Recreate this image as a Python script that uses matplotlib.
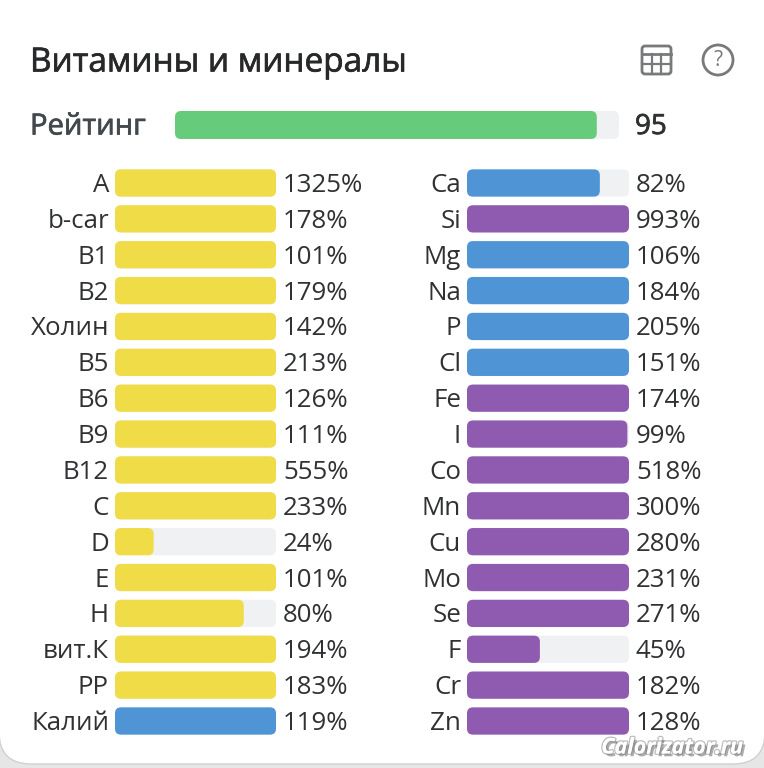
import matplotlib
matplotlib.use("Agg")
import matplotlib.pyplot as plt
import matplotlib.patheffects as pe
from matplotlib.patches import FancyBboxPatch, Circle

plt.rcParams['font.family'] = ['Open Sans', 'DejaVu Sans']

# Data
left_names = ["A", "b-car", "B1", "B2", "Холин", "B5", "B6", "B9", "B12", "C", "D", "E", "H", "вит.К", "PP", "Калий"]
left_values = [1325, 178, 101, 179, 142, 213, 126, 111, 555, 233, 24, 101, 80, 194, 183, 119]
left_colors = ["y"] * 15 + ["b"]

right_names = ["Ca", "Si", "Mg", "Na", "P", "Cl", "Fe", "I", "Co", "Mn", "Cu", "Mo", "Se", "F", "Cr", "Zn"]
right_values = [82, 993, 106, 184, 205, 151, 174, 99, 518, 300, 280, 231, 271, 45, 182, 128]
right_colors = ["b", "p", "b", "b", "b", "b", "p", "p", "p", "p", "p", "p", "p", "p", "p", "p"]

rating_label = "Рейтинг"
rating_value = 95

palette = {"y": "#f0dc46", "b": "#4f95d6", "p": "#8f5bb0", "g": "#66cc7c"}
track = "#eff1f3"
dark = "#2f3133"

W, H = 764, 768
fig = plt.figure(figsize=(W / 100, H / 100), dpi=100, facecolor="#e6e6e6")

# fake medium weight, the installed face only gives regular here
medium = [pe.withStroke(linewidth=0.5, foreground="#26282a")]
medium_grey = [pe.withStroke(linewidth=0.5, foreground="#43484c")]


def px_axes(x0, x1, ytop, ybot):
    return fig.add_axes([x0 / W, 1 - ybot / H, (x1 - x0) / W, (ybot - ytop) / H])


# card background and header, in pixels
bg = fig.add_axes([0, 0, 1, 1])
bg.set_xlim(0, W)
bg.set_ylim(H, 0)
bg.axis("off")
bg.add_patch(FancyBboxPatch((-1, -60), W + 2, H + 60 - 4, boxstyle="round,pad=0,rounding_size=32",
                            fc="white", ec="#d0d0d0", lw=1))
bg.text(30, 63, "Витамины и минералы", fontsize=24, color="#26282a", va="center", ha="left",
        path_effects=medium)
bg.text(30, 127, rating_label, fontsize=21, color="#43484c", va="center", ha="left",
        path_effects=medium_grey)
bg.text(635, 127, str(rating_value), fontsize=20, color=dark, va="center", ha="left", path_effects=medium)

# table icon
icon = "#77797b"
bg.add_patch(FancyBboxPatch((642, 46), 29, 28, boxstyle="round,pad=0,rounding_size=3",
                            fc="none", ec=icon, lw=2))
bg.plot([642, 671], [54, 54], color=icon, lw=2)
bg.plot([642, 671], [64, 64], color=icon, lw=1.6)
bg.plot([652, 652], [54, 74], color=icon, lw=1.6)
bg.plot([661, 661], [54, 74], color=icon, lw=1.6)
# help icon
bg.add_patch(Circle((718, 60), 15, fc="none", ec=icon, lw=2))
bg.text(718, 61, "?", fontsize=15, color=icon, ha="center", va="center")

# watermark
bg.text(672, 748, "Calorizator.ru", fontsize=15.5, color="white", weight="bold", style="italic",
        ha="center", va="center",
        path_effects=[pe.withStroke(linewidth=2, foreground="#bdbdbd"),
                      pe.SimplePatchShadow(offset=(2, -2), shadow_rgbFace="#777777", alpha=0.6),
                      pe.Normal()])


def rounded_bar(ax, y, value, height, color, aspect, radius):
    ax.add_patch(FancyBboxPatch((0, y - height / 2), value, height,
                                boxstyle=f"round,pad=0,rounding_size={radius}",
                                mutation_aspect=aspect, fc=color, ec="none"))


def draw_column(x0, x1, names, values, colors):
    ytop = 183 - 35.87 / 2
    ybot = 721 + 35.87 / 2
    ax = px_axes(x0, x1, ytop, ybot)
    ax.set_xlim(0, 100)
    ax.set_ylim(len(names) - 0.5, -0.5)
    ax.axis("off")
    xpx = (x1 - x0) / 100
    aspect = xpx / 35.87
    radius = 6 / xpx
    for i, (n, v, c) in enumerate(zip(names, values, colors)):
        rounded_bar(ax, i, 100, 0.76, track, aspect, radius)
        rounded_bar(ax, i, min(v, 100), 0.76, palette[c], aspect, radius)
        ax.annotate(n, (0, i), xytext=(-6, -2.5), textcoords="offset pixels", ha="right", va="center",
                    fontsize=18.6, color=dark)
        ax.annotate(f"{v}%", (100, i), xytext=(7, -2.5), textcoords="offset pixels", ha="left", va="center",
                    fontsize=18.6, color=dark)


# rating bar
ax_r = px_axes(175, 619, 111, 139)
ax_r.set_xlim(0, 100)
ax_r.set_ylim(0.5, -0.5)
ax_r.axis("off")
rounded_bar(ax_r, 0, 100, 1.0, track, 4.44 / 28, 6 / 4.44)
rounded_bar(ax_r, 0, rating_value, 1.0, palette["g"], 4.44 / 28, 6 / 4.44)

draw_column(115, 276, left_names, left_values, left_colors)
draw_column(467, 629, right_names, right_values, right_colors)

fig.savefig("out.png", dpi=100, facecolor=fig.get_facecolor())
